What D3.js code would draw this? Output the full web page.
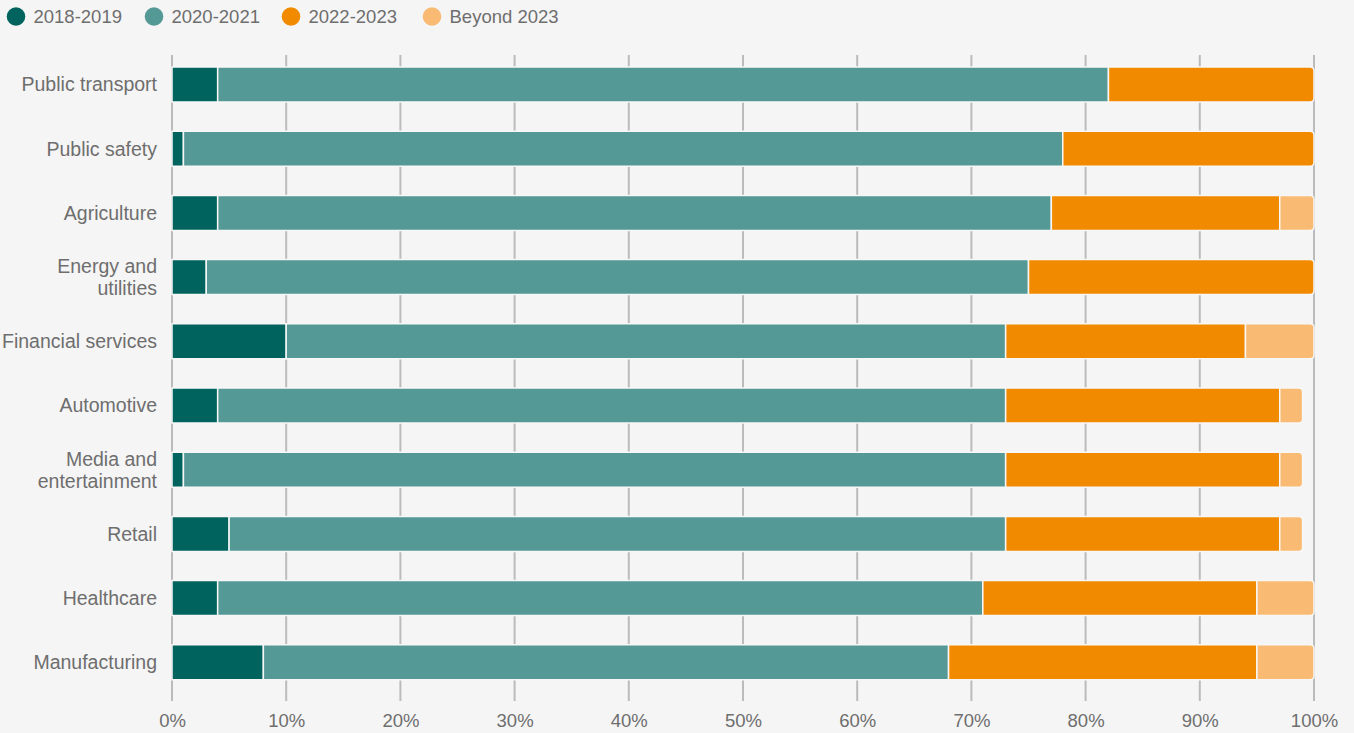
<!DOCTYPE html>
<html><head><meta charset="utf-8">
<script src="https://cdn.jsdelivr.net/npm/d3@7"></script>
<style>
html,body{margin:0;padding:0;background:#f5f5f5;}
svg{display:block;font-family:"Liberation Sans",Arial,Helvetica,sans-serif;}
</style></head>
<body><svg id="chart" width="1354" height="733"></svg>
<script>
const categories = ["Public transport","Public safety","Agriculture","Energy and utilities","Financial services","Automotive","Media and entertainment","Retail","Healthcare","Manufacturing"];
const categoryLines = [["Public transport"],["Public safety"],["Agriculture"],["Energy and","utilities"],["Financial services"],["Automotive"],["Media and","entertainment"],["Retail"],["Healthcare"],["Manufacturing"]];
const seriesNames = ["2018-2019","2020-2021","2022-2023","Beyond 2023"];
const s2018_2019 = [4,1,4,3,10,4,1,5,4,8];
const s2020_2021 = [78,77,73,72,63,69,72,68,67,60];
const s2022_2023 = [18,22,20,25,21,24,24,24,24,27];
const sBeyond2023 = [0,0,3,0,6,2,2,2,5,5];
const tickValues = [0,10,20,30,40,50,60,70,80,90,100];
const colors = ["#00635e","#559996","#f28a00","#f9bb73"];

const svg = d3.select("#chart");
const x = d3.scaleLinear().domain([0,100]).range([172,1314]);
const y = d3.scaleBand().domain(categories).range([52.4,694.4]).paddingInner(0.455).paddingOuter(0.2275);
const textColor = "#6e6e6e";

// gridlines
svg.append("g").selectAll("line").data(tickValues).join("line")
  .attr("x1",d=>x(d)).attr("x2",d=>x(d)).attr("y1",55).attr("y2",701)
  .attr("stroke","#bbbbbb").attr("stroke-width",2);

// axis labels
const xAxis = d3.axisBottom(x).tickValues(tickValues).tickFormat(d=>d+"%").tickSize(0).tickPadding(0);
const ax = svg.append("g").attr("transform","translate(0,705)").call(xAxis);
ax.select(".domain").remove();
ax.selectAll("text").attr("fill",textColor).attr("font-size",18.5).attr("dy",0).attr("y",22)
  .style("font-family","'Liberation Sans',Arial,sans-serif");

// data table
const series = [s2018_2019,s2020_2021,s2022_2023,sBeyond2023];
const rows = categories.map((c,i)=>{
  let acc=0; const segs=[];
  series.forEach((s,k)=>{ if(s[i]>0){ segs.push({cat:c,k,x0:acc,x1:acc+s[i]}); } acc+=s[i]; });
  segs[segs.length-1].last=true;
  return segs;
});
const r=4;
function segPath(d){
  const x0=x(d.x0), x1=x(d.x1), y0=y(d.cat), h=y.bandwidth();
  if(!d.last) return `M${x0},${y0}H${x1}V${y0+h}H${x0}Z`;
  return `M${x0},${y0}H${x1-r}Q${x1},${y0} ${x1},${y0+r}V${y0+h-r}Q${x1},${y0+h} ${x1-r},${y0+h}H${x0}Z`;
}
svg.append("g").selectAll("path").data(rows.flat()).join("path")
  .attr("d",segPath).attr("fill",d=>colors[d.k])
  .attr("stroke","#f7f7f7").attr("stroke-width",1.5);

// category labels
const lab = svg.append("g").selectAll("text").data(categories).join("text")
  .attr("x",157).attr("text-anchor","end").attr("fill",textColor).attr("font-size",19.5);
lab.each(function(c,i){
  const lines = categoryLines[i];
  const cy = y(c)+y.bandwidth()/2;
  const lh = 22;
  const t = d3.select(this);
  lines.forEach((ln,j)=>{
    t.append("tspan").attr("x",157).attr("y",cy + (j-(lines.length-1)/2)*lh).attr("dy","0.35em").text(ln);
  });
});

// legend
const legX = [16,154,291,432];
const lg = svg.append("g").selectAll("g").data(seriesNames).join("g")
  .attr("transform",(d,i)=>`translate(${legX[i]},16.5)`);
lg.append("circle").attr("r",9.3).attr("fill",(d,i)=>colors[i]);
lg.append("text").attr("x",17.5).attr("dy","0.36em").attr("fill",textColor).attr("font-size",18.5).text(d=>d);
</script></body></html>
